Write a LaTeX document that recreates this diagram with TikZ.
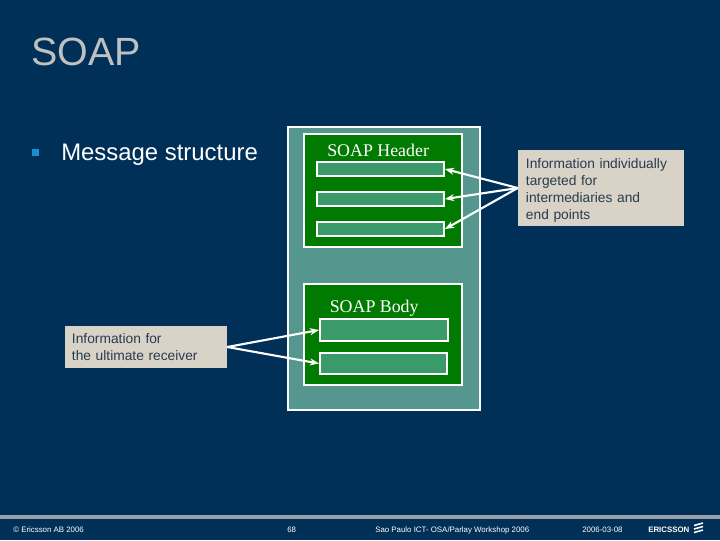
\documentclass[tikz,border=0pt]{standalone}
\usepackage{fontspec}
\setmainfont{Liberation Sans}
\newfontfamily\serifbox{Liberation Serif}
\usetikzlibrary{arrows.meta, positioning}
\definecolor{slidebg}{RGB}{0, 48, 87}
\definecolor{slidegrey}{RGB}{190, 192, 194}
\definecolor{slidebar}{RGB}{154, 160, 168}
\definecolor{soapteal}{RGB}{85, 151, 143}
\definecolor{soapgreen}{RGB}{0, 122, 0}
\definecolor{soapfield}{RGB}{58, 154, 106}
\definecolor{notefill}{RGB}{217, 210, 198}
\definecolor{notetext}{RGB}{40, 60, 80}
\definecolor{bulletblue}{RGB}{26, 143, 208}
\tikzset{
  frame/.style={rectangle, draw=white, line width=1.4pt, inner sep=0pt},
  envelope/.style={frame, fill=soapteal, minimum width=4.8cm, minimum height=7.075cm},
  part/.style={frame, fill=soapgreen, minimum width=3.95cm},
  field/.style={frame, fill=soapfield},
  parttitle/.style={font=\serifbox\fontsize{12.7}{15}\selectfont, text=white, inner sep=0pt},
  note/.style={rectangle, fill=notefill, text=notetext, align=left, inner sep=0pt,
               font=\fontsize{9.8}{12.1}\selectfont},
  footer/.style={font=\fontsize{5.6}{7}\selectfont, text=white, inner sep=0pt},
  pointer/.style={-{Stealth[length=6.5pt, width=5pt]}, line width=1.5pt, color=white},
}
\begin{document}
\begin{tikzpicture}[x=0.025cm, y=-0.025cm]
        \useasboundingbox (0, 0) rectangle (720, 540);
        \fill[slidebg] (0, 0) rectangle (720, 540);

        % Title and bullet
        \node[font=\fontsize{28}{32}\selectfont, text=slidegrey, anchor=base west, inner sep=0pt] (title) at (31, 65.5) {SOAP};
        \node[rectangle, fill=bulletblue, minimum size=0.175cm, inner sep=0pt] (bullet) at (35.5, 152.5) {};
        \node[font=\fontsize{17}{20}\selectfont, text=white, anchor=base west, inner sep=0pt] (topic) at (61, 160) {Message structure};

        % Envelope
        \node[envelope] (soap) at (384, 268.5) {};

        % Header
        \node[part, minimum height=2.825cm] (header) at (383, 190.5) {};
        \node[parttitle, anchor=base west] (headertitle) at (327, 156) {SOAP Header};
        \node[field, minimum width=3.175cm, minimum height=0.35cm] (h1) at (380.5, 169) {};
        \node[field, minimum width=3.175cm, minimum height=0.35cm] (h2) at (380.5, 199) {};
        \node[field, minimum width=3.175cm, minimum height=0.35cm] (h3) at (380.5, 229) {};

        % Body
        \node[part, minimum height=2.525cm] (body) at (383, 334.5) {};
        \node[parttitle, anchor=base west] (bodytitle) at (329.5, 312) {SOAP Body};
        \node[field, minimum width=3.2cm, minimum height=0.55cm] (b1) at (384, 330) {};
        \node[field, minimum width=3.175cm, minimum height=0.525cm] (b2) at (383.5, 363.5) {};

        % Notes
        \node[note, text width=3.75cm, minimum width=4.15cm, minimum height=1.9cm] (hnote) at (601, 188)
          {\rule{0pt}{10pt}Information individually\\targeted for\\intermediaries and\\end points};
        \node[note, text width=3.7cm, minimum width=4.05cm, minimum height=1.05cm] (bnote) at (146, 347)
          {Information for\\the ultimate receiver};

        % Arrows
        \draw[pointer] (hnote.west) -- (h1.east);
        \draw[pointer] (hnote.west) -- (h2.east);
        \draw[pointer] (hnote.west) -- (h3.east);
        \draw[pointer] (bnote.east) -- (b1.west);
        \draw[pointer] (bnote.east) -- (b2.west);

        % Footer
        \fill[slidebar] (0, 515) rectangle (720, 519);
        \node[footer, anchor=base west] (copy) at (13, 532) {© Ericsson AB 2006};
        \node[footer, anchor=base west] (page) at (287, 532) {68};
        \node[footer, anchor=base west] (event) at (375, 532) {Sao Paulo ICT- OSA/Parlay Workshop 2006};
        \node[footer, anchor=base west] (date) at (582, 532) {2006-03-08};
        \node[font=\bfseries\fontsize{5.6}{7}\selectfont, text=white, anchor=base west, inner sep=0pt] (brand) at (648, 532) {ERICSSON};
        \draw[white, line width=1.1pt] (694, 525.5) -- (703, 523) (694, 529) -- (703, 526.5) (694, 532.5) -- (703, 530);
      \end{tikzpicture}
\end{document}
